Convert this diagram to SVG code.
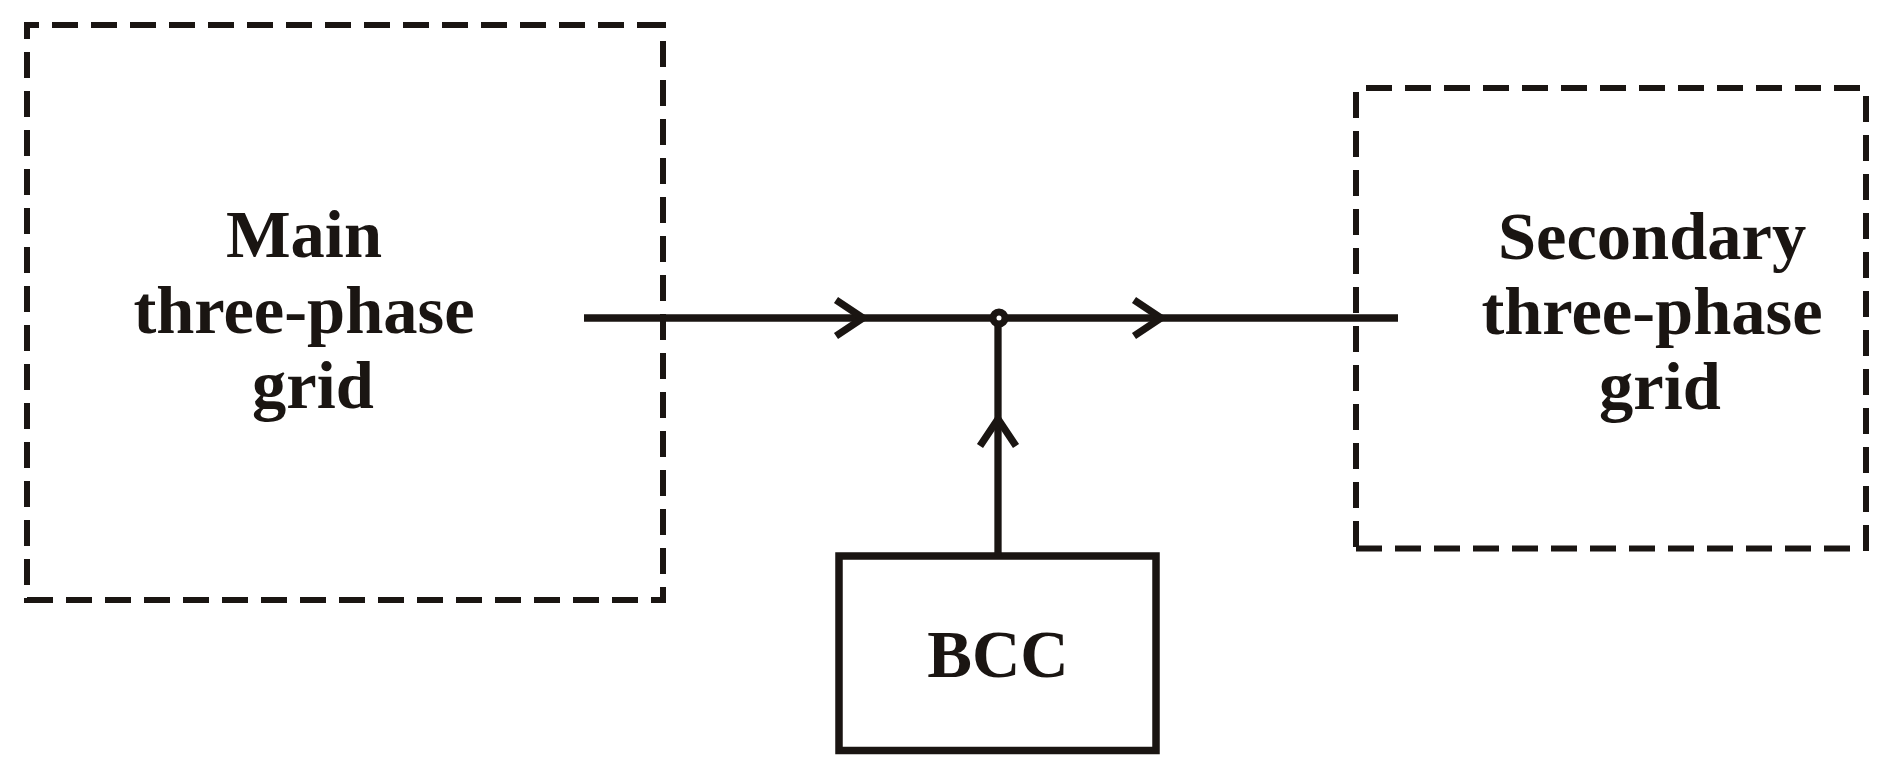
<svg xmlns="http://www.w3.org/2000/svg" width="1893" height="777" viewBox="0 0 1893 777">
<defs>
<style>
.dash{fill:none;stroke:#1a1512;stroke-width:6;stroke-dasharray:26 13;stroke-linecap:butt}
.wire{fill:none;stroke:#1a1512;stroke-width:7.3;stroke-linecap:butt}
.arr{fill:none;stroke:#1a1512;stroke-width:7.3;stroke-linejoin:miter;stroke-miterlimit:10}
.lbl{font-family:"Liberation Serif","Times New Roman",serif;font-weight:bold;font-size:68.5px;fill:#1a1512;text-anchor:middle}
.bcc{font-size:67px}
</style>
</defs>
<rect width="1893" height="777" fill="#ffffff"/>
<g id="main-grid">
<line class="dash" x1="24" y1="25" x2="666" y2="25" stroke-dashoffset="11"/>
<line class="dash" x1="27" y1="22" x2="27" y2="603" stroke-dashoffset="9"/>
<line class="dash" x1="663" y1="603" x2="663" y2="22" stroke-dashoffset="10"/>
<line class="dash" x1="666" y1="600" x2="24" y2="600" stroke-dashoffset="11"/>
<text class="lbl" x="304" y="257">Main</text>
<text class="lbl" x="304" y="333">three-phase</text>
<text class="lbl" x="313" y="408">grid</text>
</g>
<g id="secondary-grid">
<line class="dash" x1="1366" y1="88" x2="1863" y2="88"/>
<line class="dash" x1="1356" y1="92" x2="1356" y2="551"/>
<line class="dash" x1="1866" y1="551" x2="1866" y2="92"/>
<line class="dash" x1="1850" y1="548.5" x2="1353" y2="548.5"/>
<text class="lbl" x="1652" y="259">Secondary</text>
<text class="lbl" x="1652" y="334">three-phase</text>
<text class="lbl" x="1660" y="409">grid</text>
</g>
<g id="bcc">
<rect x="839" y="556" width="317" height="194.5" fill="#ffffff" stroke="#1a1512" stroke-width="7.5"/>
<text class="lbl bcc" x="998" y="677">BCC</text>
</g>
<g id="connectors">
<line class="wire" x1="584" y1="318" x2="1398" y2="318"/>
<line class="wire" x1="998" y1="318" x2="998" y2="556"/>
<path class="arr" d="M836,300 L863,318 L836,336"/>
<path class="arr" d="M1134,300 L1161,318 L1134,336"/>
<path class="arr" d="M980,446 L998,419 L1016,446"/>
<circle cx="999" cy="318" r="6" fill="#ffffff" stroke="#1a1512" stroke-width="7"/>
</g>
</svg>
